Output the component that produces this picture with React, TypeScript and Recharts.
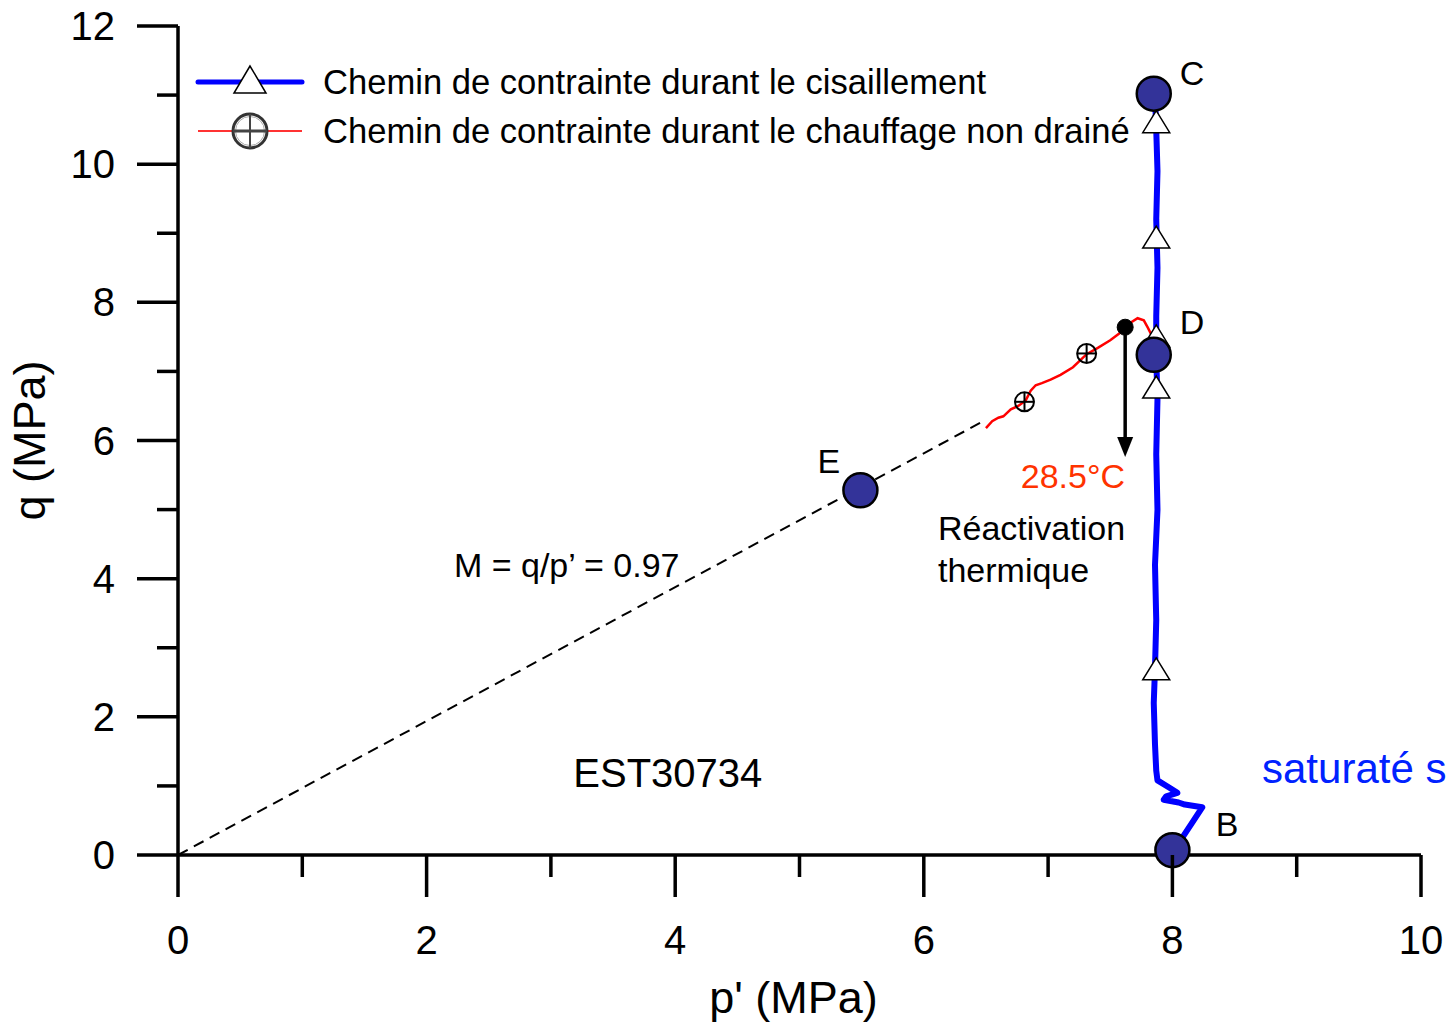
import React from "react";
import {
  ComposedChart,
  Line,
  Scatter,
  XAxis,
  YAxis,
  ReferenceDot,
  ReferenceLine,
  Legend,
  Label,
} from "recharts";

// ---- data (p' in MPa, q in MPa) ----
const criticalLine = [
  { p: 0, q: 0 },
  { p: 6.5, q: 6.3 },
];

const shearPath = [
  { p: 8.0, q: 0.07 },
  { p: 8.08, q: 0.25 },
  { p: 8.24, q: 0.69 },
  { p: 8.1, q: 0.73 },
  { p: 8.05, q: 0.76 },
  { p: 7.93, q: 0.8 },
  { p: 7.95, q: 0.85 },
  { p: 8.04, q: 0.9 },
  { p: 7.98, q: 0.97 },
  { p: 7.88, q: 1.08 },
  { p: 7.87, q: 1.22 },
  { p: 7.86, q: 1.6 },
  { p: 7.85, q: 2.2 },
  { p: 7.86, q: 2.7 },
  { p: 7.87, q: 3.4 },
  { p: 7.86, q: 4.2 },
  { p: 7.88, q: 5.0 },
  { p: 7.87, q: 5.8 },
  { p: 7.88, q: 6.6 },
  { p: 7.87, q: 7.2 },
  { p: 7.87, q: 7.8 },
  { p: 7.88, q: 8.5 },
  { p: 7.87, q: 9.2 },
  { p: 7.88, q: 9.9 },
  { p: 7.87, q: 10.5 },
  { p: 7.86, q: 11.0 },
];

const shearMarkers = [
  { p: 7.87, q: 2.68 },
  { p: 7.87, q: 6.76 },
  { p: 7.87, q: 7.5 },
  { p: 7.87, q: 8.93 },
  { p: 7.87, q: 10.6 },
];

const heatingPath = [
  { p: 6.5, q: 6.18 },
  { p: 6.55, q: 6.28 },
  { p: 6.6, q: 6.33 },
  { p: 6.64, q: 6.35 },
  { p: 6.7, q: 6.45 },
  { p: 6.76, q: 6.5 },
  { p: 6.82, q: 6.58 },
  { p: 6.86, q: 6.72 },
  { p: 6.9, q: 6.8 },
  { p: 6.95, q: 6.83 },
  { p: 7.02, q: 6.88 },
  { p: 7.1, q: 6.95 },
  { p: 7.2, q: 7.06 },
  { p: 7.31, q: 7.25 },
  { p: 7.4, q: 7.34 },
  { p: 7.5, q: 7.45 },
  { p: 7.58, q: 7.56 },
  { p: 7.66, q: 7.7 },
  { p: 7.72, q: 7.77 },
  { p: 7.77, q: 7.74 },
  { p: 7.8, q: 7.64 },
  { p: 7.84, q: 7.5 },
];

const heatingMarkers = [
  { p: 6.81, q: 6.56 },
  { p: 7.31, q: 7.26 },
];

const statePoints = [
  { p: 7.85, q: 11.02 }, // C
  { p: 7.85, q: 7.24 }, // D
  { p: 5.49, q: 5.28 }, // E
  { p: 8.0, q: 0.07 }, // B
];

const reactivationPoint = [{ p: 7.62, q: 7.64 }];

const xTicks = [0, 1, 2, 3, 4, 5, 6, 7, 8, 9, 10];
const yTicks = [0, 1, 2, 3, 4, 5, 6, 7, 8, 9, 10, 11, 12];

const FONT = "'Liberation Sans', Arial, Helvetica, sans-serif";

const XTick = (props: any) => {
  const { x, y, payload } = props;
  const v = payload.value;
  const major = v % 2 === 0;
  return (
    <g>
      <line x1={x} x2={x} y1={y} y2={y + (major ? 42 : 22)} stroke="#000" strokeWidth={3.5} />
      {major && (
        <text x={x} y={y + 99} textAnchor="middle" fontSize={40} fontFamily={FONT} fill="#000">
          {v}
        </text>
      )}
    </g>
  );
};

const YTick = (props: any) => {
  const { x, y, payload } = props;
  const v = payload.value;
  const major = v % 2 === 0;
  return (
    <g>
      <line x1={x - (major ? 41 : 21)} x2={x} y1={y} y2={y} stroke="#000" strokeWidth={3.5} />
      {major && (
        <text x={x - 63} y={y + 14} textAnchor="end" fontSize={40} fontFamily={FONT} fill="#000">
          {v}
        </text>
      )}
    </g>
  );
};

const Triangle = (props: any) => {
  const { cx, cy } = props;
  return (
    <polygon
      points={`${cx},${cy - 12} ${cx - 13.5},${cy + 10} ${cx + 13.5},${cy + 10}`}
      fill="#fff"
      stroke="#000"
      strokeWidth={1.5}
    />
  );
};

const CrossCircle = (props: any) => {
  const { cx, cy } = props;
  return (
    <g>
      <circle cx={cx} cy={cy} r={9.5} fill="none" stroke="#000" strokeWidth={2} />
      <line x1={cx - 9.5} x2={cx + 9.5} y1={cy} y2={cy} stroke="#000" strokeWidth={2} />
      <line x1={cx} x2={cx} y1={cy - 9.5} y2={cy + 9.5} stroke="#000" strokeWidth={2} />
    </g>
  );
};

const BigDot = (props: any) => (
  <circle cx={props.cx} cy={props.cy} r={17} fill="#333399" stroke="#000" strokeWidth={2.5} />
);

const SmallBlackDot = (props: any) => (
  <circle cx={props.cx} cy={props.cy} r={8} fill="#000" stroke="#000" strokeWidth={1} />
);

const txt = (
  content: string,
  opts: { size?: number; color?: string; anchor?: "start" | "middle" | "end" } = {}
) =>
  (props: any) => (
    <text
      x={props.cx}
      y={props.cy}
      dominantBaseline="central"
      textAnchor={opts.anchor || "middle"}
      fontSize={opts.size || 34}
      fontFamily={FONT}
      fill={opts.color || "#000"}
    >
      {content}
    </text>
  );

const ArrowHead = (props: any) => {
  const { cx, cy } = props;
  return <polygon points={`${cx},${cy} ${cx - 8},${cy - 20} ${cx + 8},${cy - 20}`} fill="#000" />;
};

const LegendBox = () => (
  <svg width={1000} height={110} style={{ display: "block", overflow: "visible" }}>
    <line x1={8} x2={112} y1={27} y2={27} stroke="#0000ff" strokeWidth={5} strokeLinecap="round" />
    <polygon points={`60,11 44,38 76,38`} fill="#fff" stroke="#000" strokeWidth={1.5} />
    <text x={133} y={39} fontSize={34.6} fontFamily={FONT} fill="#000">
      Chemin de contrainte durant le cisaillement
    </text>
    <line x1={8} x2={112} y1={76} y2={76} stroke="#ff3333" strokeWidth={2} />
    <circle cx={60} cy={76} r={17} fill="none" stroke="#333" strokeWidth={3} />
    <circle cx={60} cy={76} r={14.5} fill="none" stroke="#aaa" strokeWidth={1} />
    <line x1={43} x2={77} y1={76} y2={76} stroke="#444" strokeWidth={3} />
    <line x1={60} x2={60} y1={59} y2={93} stroke="#444" strokeWidth={2} />
    <text x={133} y={88} fontSize={34.6} fontFamily={FONT} fill="#000">
      Chemin de contrainte durant le chauffage non drainé
    </text>
  </svg>
);

export default function App() {
  return (
    <div style={{ position: "absolute", left: 0, top: 0, width: 1448, height: 1024, background: "#fff", fontFamily: FONT, overflow: "hidden" }}>
      <ComposedChart
        width={1448}
        height={1024}
        margin={{ top: 26, right: 27, left: 58, bottom: 49 }}
        data={shearPath}
      >
        <XAxis
          type="number"
          dataKey="p"
          domain={[0, 10]}
          ticks={xTicks}
          interval={0}
          height={120}
          tickSize={0}
          tickMargin={0}
          tickLine={false}
          tick={<XTick />}
          axisLine={{ stroke: "#000", strokeWidth: 3.5 }}
        >
          <Label
            content={(props: any) => {
              const vb = props.viewBox;
              return (
                <text x={vb.x + vb.width / 2 - 6} y={vb.y + 158} textAnchor="middle" fontSize={45} fontFamily={FONT} fill="#000">
                  p' (MPa)
                </text>
              );
            }}
          />
        </XAxis>
        <YAxis
          type="number"
          dataKey="q"
          domain={[0, 12]}
          ticks={yTicks}
          interval={0}
          width={120}
          tickSize={0}
          tickMargin={0}
          tickLine={false}
          tick={<YTick />}
          axisLine={{ stroke: "#000", strokeWidth: 3.5 }}
        >
          <Label
            content={(props: any) => {
              const vb = props.viewBox;
              const cx = vb.x - 13;
              const cy = vb.y + vb.height / 2;
              return (
                <text x={cx} y={cy} transform={`rotate(-90 ${cx} ${cy})`} textAnchor="middle" fontSize={45} fontFamily={FONT} fill="#000">
                  q (MPa)
                </text>
              );
            }}
          />
        </YAxis>

        <Legend
          layout="vertical"
          align="center"
          verticalAlign="middle"
          wrapperStyle={{ left: 190, top: 55, width: 1000, height: 110 }}
          content={() => <LegendBox />}
        />

        <Line
          data={criticalLine}
          dataKey="q"
          stroke="#000"
          strokeWidth={2}
          strokeDasharray="11 7"
          dot={false}
          activeDot={false}
          isAnimationActive={false}
          legendType="none"
        />
        <Line
          data={shearPath}
          dataKey="q"
          stroke="#0000ff"
          strokeWidth={6}
          strokeLinejoin="round"
          dot={false}
          activeDot={false}
          isAnimationActive={false}
          name="Chemin de contrainte durant le cisaillement"
        />
        <Line
          data={heatingPath}
          dataKey="q"
          stroke="#ff0000"
          strokeWidth={2.5}
          dot={false}
          activeDot={false}
          isAnimationActive={false}
          name="Chemin de contrainte durant le chauffage non drainé"
        />
        <Scatter data={shearMarkers} dataKey="q" shape={<Triangle />} isAnimationActive={false} legendType="none" />
        <Scatter data={heatingMarkers} dataKey="q" shape={<CrossCircle />} isAnimationActive={false} legendType="none" />
        <Scatter data={statePoints} dataKey="q" shape={<BigDot />} isAnimationActive={false} legendType="none" />
        <Scatter data={reactivationPoint} dataKey="q" shape={<SmallBlackDot />} isAnimationActive={false} legendType="none" />

        <ReferenceLine
          segment={[
            { x: 7.62, y: 7.64 },
            { x: 7.62, y: 6.0 },
          ]}
          stroke="#000"
          strokeWidth={3.5}
          ifOverflow="visible"
        />
        <ReferenceDot x={7.62} y={5.76} shape={<ArrowHead />} ifOverflow="visible" />

        <ReferenceDot x={8.157} y={11.32} shape={txt("C")} ifOverflow="visible" />
        <ReferenceDot x={8.157} y={7.72} shape={txt("D")} ifOverflow="visible" />
        <ReferenceDot x={5.237} y={5.7} shape={txt("E")} ifOverflow="visible" />
        <ReferenceDot x={8.44} y={0.45} shape={txt("B")} ifOverflow="visible" />
        <ReferenceDot x={7.2} y={5.49} shape={txt("28.5°C", { color: "#ff3300" })} ifOverflow="visible" />
        <ReferenceDot x={6.114} y={4.73} shape={txt("Réactivation", { anchor: "start" })} ifOverflow="visible" />
        <ReferenceDot x={6.114} y={4.13} shape={txt("thermique", { anchor: "start" })} ifOverflow="visible" />
        <ReferenceDot x={2.22} y={4.2} shape={txt("M = q/p’ = 0.97", { anchor: "start" })} ifOverflow="visible" />
        <ReferenceDot x={3.18} y={1.19} shape={txt("EST30734", { anchor: "start", size: 40 })} ifOverflow="visible" />
        <ReferenceDot x={8.721} y={1.25} shape={txt("saturaté s", { anchor: "start", size: 42, color: "#0022ff" })} ifOverflow="visible" />
      </ComposedChart>
    </div>
  );
}
